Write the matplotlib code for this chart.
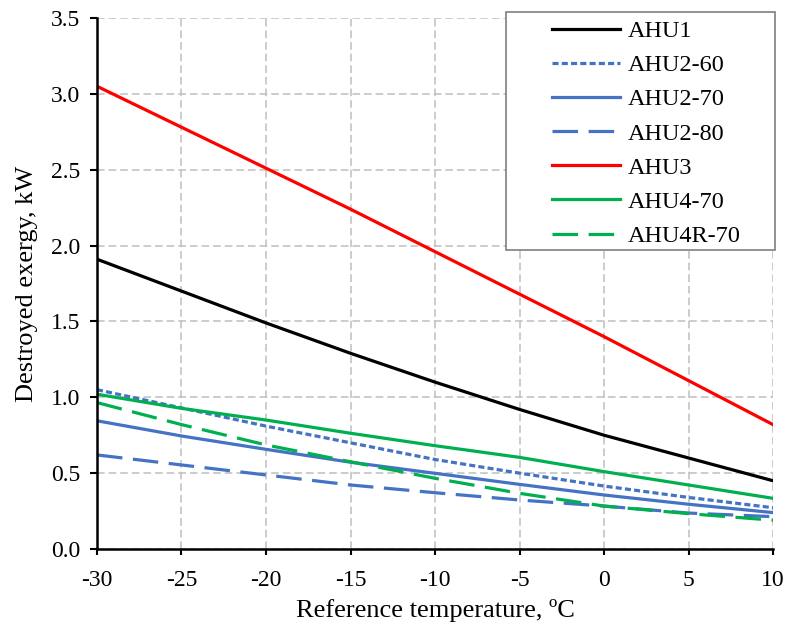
import matplotlib.pyplot as plt
from matplotlib.patches import Rectangle

plt.rcParams['font.family'] = ['Liberation Serif', 'DejaVu Serif']
plt.rcParams['axes.unicode_minus'] = False

# Reference temperature, degC
t_ref = [-30, -25, -20, -15, -10, -5, 0, 5, 10]

# Destroyed exergy, kW
ahu1 = [1.91, 1.70, 1.49, 1.29, 1.10, 0.92, 0.75, 0.60, 0.45]
ahu2_60 = [1.05, 0.93, 0.81, 0.70, 0.59, 0.50, 0.415, 0.34, 0.272]
ahu2_70 = [0.845, 0.745, 0.657, 0.572, 0.499, 0.426, 0.356, 0.295, 0.24]
ahu2_80 = [0.62, 0.554, 0.488, 0.422, 0.371, 0.323, 0.283, 0.237, 0.213]
ahu3 = [3.05, 2.78, 2.51, 2.24, 1.96, 1.68, 1.40, 1.11, 0.82]
ahu4_70 = [1.02, 0.927, 0.85, 0.763, 0.681, 0.604, 0.51, 0.422, 0.334]
ahu4r_70 = [0.965, 0.82, 0.686, 0.575, 0.466, 0.367, 0.283, 0.233, 0.19]

blue = '#4472C4'
green = '#00B050'
W, H = 790, 634

fig = plt.figure(figsize=(7.9, 6.34), dpi=100)
ax = fig.add_axes([97 / W, 1 - 549 / H, 676 / W, 531 / H])

lw = 2.3
ax.plot(t_ref, ahu1, color='black', lw=lw, label='AHU1')
ax.plot(t_ref, ahu2_60, color=blue, lw=lw, dashes=(1.9, 1.0), label='AHU2-60')
ax.plot(t_ref, ahu2_70, color=blue, lw=lw, label='AHU2-70')
ax.plot(t_ref, ahu2_80, color=blue, lw=lw, dashes=(8, 3.3), label='AHU2-80')
ax.plot(t_ref, ahu3, color='#FF0000', lw=lw, label='AHU3')
ax.plot(t_ref, ahu4_70, color=green, lw=lw, label='AHU4-70')
ax.plot(t_ref, ahu4r_70, color=green, lw=lw, dashes=(8, 3.3), label='AHU4R-70')

ax.set_xlim(-30, 10)
ax.set_ylim(0, 3.5)
ax.set_xticks(range(-30, 11, 5))
ax.set_yticks([i * 0.5 for i in range(8)])
ax.set_yticklabels(['%.1f' % (i * 0.5) for i in range(8)])
ax.tick_params(axis='y', labelsize=17, direction='out', length=5, width=1.5, pad=7)
ax.tick_params(axis='x', labelsize=17, direction='out', length=4, width=1.5, pad=11)

ax.grid(True, color='#BFBFBF', linestyle=(0, (5, 2.6)), lw=1.1)
ax.set_axisbelow(True)
for s in ['top', 'right']:
    ax.spines[s].set_visible(False)
for s in ['left', 'bottom']:
    ax.spines[s].set_linewidth(1.8)

ax.set_xlabel('Reference temperature, ºC', fontsize=19, labelpad=6)
ax.set_ylabel('Destroyed exergy, kW', fontsize=19, labelpad=9)

# legend box like the spreadsheet one: wide frame, entries centred
ax.add_patch(Rectangle((506 / W, 1 - 250 / H), 269 / W, 238 / H,
                       transform=fig.transFigure, facecolor='white',
                       edgecolor='#7F7F7F', lw=1.2, zorder=5, clip_on=False))
leg = ax.legend(loc='upper left', bbox_to_anchor=(552 / W, 1 - 20 / H),
                bbox_transform=fig.transFigure, fontsize=17.5, frameon=False,
                handlelength=2.8, handletextpad=0.3, labelspacing=0.5,
                borderpad=0, borderaxespad=0)
leg.set_zorder(6)

fig.savefig('out.png', dpi=100)
